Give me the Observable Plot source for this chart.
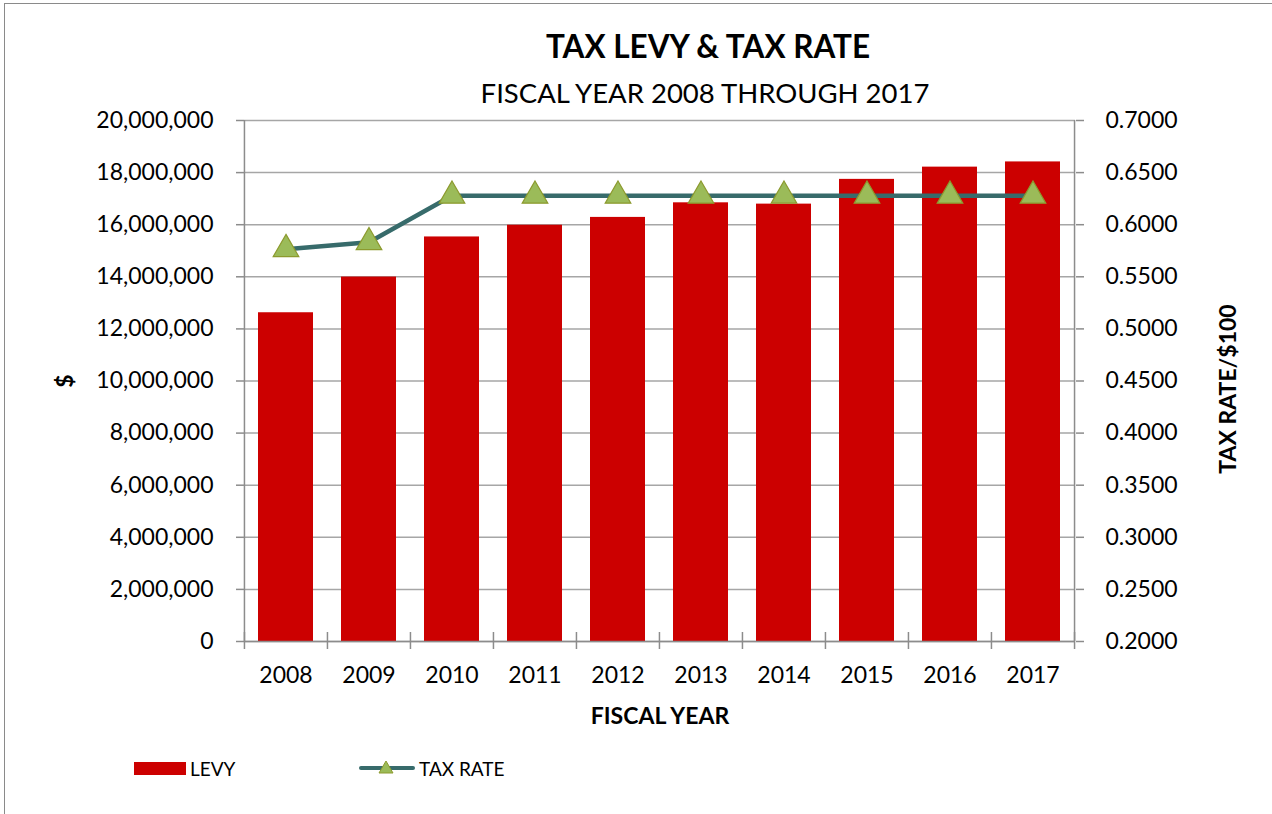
<!DOCTYPE html>
<html>
<head>
<meta charset="utf-8">
<script src="https://cdn.jsdelivr.net/npm/d3@7"></script>
<script src="https://cdn.jsdelivr.net/npm/@observablehq/plot@0.6"></script>
<style>
  body { margin: 0; background: #fff; font-family: Lato, "Open Sans", sans-serif; }
  #wrap { position: relative; width: 1272px; height: 814px; overflow: hidden; }
  #border { position: absolute; left: 4px; top: 3px; width: 1400px; height: 1000px; border-top: 1.5px solid #8a8a8a; border-left: 1.5px solid #8a8a8a; }
  .title { position: absolute; left: 0; text-align: center; color: #000; white-space: nowrap; }
  #t1 { top: 27px; font-size: 31.5px; font-weight: bold; width: 1416px; }
  #t2 { top: 76px; font-size: 27.5px; width: 1410px; }
  #chart { position: absolute; left: 0; top: 100px; }
  .leg { position: absolute; top: 756px; font-size: 19px; color: #000; display: flex; align-items: center; height: 24px; }
</style>
</head>
<body>
<div id="wrap">
  <div id="border"></div>
  <div class="title" id="t1">TAX LEVY &amp; TAX RATE</div>
  <div class="title" id="t2">FISCAL YEAR 2008 THROUGH 2017</div>
  <div id="chart"></div>
  <div class="leg" style="left:134px;"><span style="display:inline-block;width:52px;height:13px;background:#cc0000;margin-right:4px;"></span>LEVY</div>
  <div class="leg" style="left:358px;"><svg width="58" height="20" style="margin-right:3px;"><line x1="3" y1="10" x2="55" y2="10" stroke="#376b6b" stroke-width="4" stroke-linecap="round"/><path d="M28,3 L35,15 L21,15 Z" fill="#9bbb59" stroke="#8c9a2e" stroke-width="1"/></svg>TAX RATE</div>
</div>
<script>
const years = ["2008","2009","2010","2011","2012","2013","2014","2015","2016","2017"];
const levy = [12620000, 13990000, 15530000, 15980000, 16280000, 16840000, 16790000, 17740000, 18210000, 18410000];
const taxRate = [0.5765, 0.5832, 0.6277, 0.6277, 0.6277, 0.6277, 0.6277, 0.6277, 0.6277, 0.6277];
const levyTicks = [0, 2000000, 4000000, 6000000, 8000000, 10000000, 12000000, 14000000, 16000000, 18000000, 20000000];
const rateTicks = [0.2, 0.25, 0.3, 0.35, 0.4, 0.45, 0.5, 0.55, 0.6, 0.65, 0.7];

const levyMax = 20000000, rateMin = 0.2, rateMax = 0.7;
const toLevy = r => (r - rateMin) / (rateMax - rateMin) * levyMax;
const toRate = v => rateMin + v / levyMax * (rateMax - rateMin);

const data = years.map((y, i) => ({year: y, levy: levy[i], rate: taxRate[i]}));

const W = 1272, H = 640, mL = 244, mR = 197, mT = 20, mB = 99;
const step = (W - mL - mR) / years.length;
const axisColor = "#8c8c8c";
const font = "Lato, 'Open Sans', sans-serif";

const plot = Plot.plot({
  width: W, height: H,
  marginLeft: mL, marginRight: mR, marginTop: mT, marginBottom: mB,
  style: {fontFamily: font, fontSize: "23px", color: "#000", background: "transparent"},
  x: {type: "band", domain: years, paddingInner: 0.335, paddingOuter: 0.1675, align: 0.5, label: null},
  y: {domain: [0, levyMax], label: null},
  marks: [
    Plot.gridY(levyTicks, {stroke: "#a6a6a6", strokeOpacity: 1, strokeWidth: 1.5}),
    Plot.barY(data, {x: "year", y: "levy", fill: "#cc0000"}),
    Plot.ruleY([0], {stroke: axisColor, strokeWidth: 1.5}),
    Plot.ruleX([years[0]], {x: d => d, dx: -step / 2, y1: 0, y2: levyMax, stroke: axisColor, strokeWidth: 1.5}),
    Plot.ruleX([years[years.length - 1]], {x: d => d, dx: step / 2, y1: 0, y2: levyMax, stroke: axisColor, strokeWidth: 1.5}),
    Plot.ruleX(years, {x: d => d, dx: -step / 2, y1: 0, y2: 0, insetTop: -9, insetBottom: -8, stroke: axisColor, strokeWidth: 1.5}),
    Plot.ruleX([years[years.length - 1]], {x: d => d, dx: step / 2, y1: 0, y2: 0, insetTop: -9, insetBottom: -8, stroke: axisColor, strokeWidth: 1.5}),
    Plot.axisY(levyTicks, {anchor: "left", tickSize: 8, tickPadding: 23, stroke: axisColor, strokeWidth: 1.5, tickFormat: d3.format(","), label: null}),
    Plot.axisY(levyTicks, {anchor: "right", tickSize: 8, tickPadding: 22, stroke: axisColor, strokeWidth: 1.5, tickFormat: d => toRate(d).toFixed(4), label: null}),
    Plot.axisX(years, {tickSize: 0, tickPadding: 25, label: null}),
    Plot.line(data, {x: "year", y: d => toLevy(d.rate), stroke: "#376b6b", strokeWidth: 4.5}),
    Plot.dot(data, {x: "year", y: d => toLevy(d.rate), symbol: "triangle", r: 9.5, fill: "#9bbb59", stroke: "#8c9a2e", strokeWidth: 1.2}),
    Plot.text(["$"], {frameAnchor: "left", dx: -179, rotate: -90, textAnchor: "middle", lineAnchor: "middle", fontWeight: "bold", fontSize: 23}),
    Plot.text(["TAX RATE/$100"], {frameAnchor: "right", dx: 153, dy: 8, rotate: -90, textAnchor: "middle", lineAnchor: "middle", fontWeight: "bold", fontSize: 23}),
    Plot.text(["FISCAL YEAR"], {frameAnchor: "bottom", dy: 75, lineAnchor: "middle", fontWeight: "bold", fontSize: 23})
  ]
});
document.getElementById("chart").appendChild(plot);
</script>
</body>
</html>
